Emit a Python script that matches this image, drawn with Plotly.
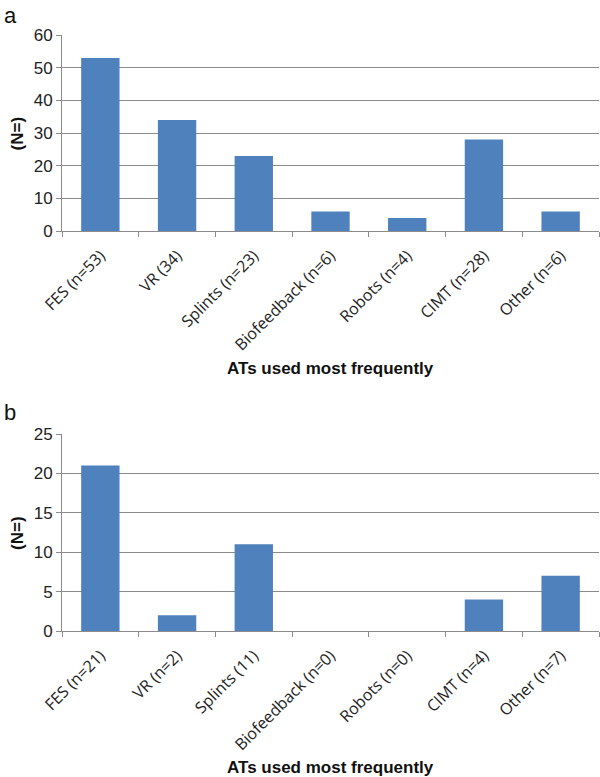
import plotly.graph_objects as go

cats_a = ["FES (n=53)", "VR (34)", "Splints (n=23)", "Biofeedback (n=6)", "Robots (n=4)", "CIMT (n=28)", "Other (n=6)"]
vals_a = [53, 34, 23, 6, 4, 28, 6]
cats_b = ["FES (n=21)", "VR (n=2)", "Splints (11)", "Biofeedback (n=0)", "Robots (n=0)", "CIMT (n=4)", "Other (n=7)"]
vals_b = [21, 2, 11, 0, 0, 4, 7]
xtitle = "ATs used most frequently"
ytitle = "(N="  + ")"

bar_color = "#4F81BD"
grid_color = "#8C8C8C"
tick_font = dict(family="Liberation Sans, Arial, sans-serif", size=17, color="#222")
cat_font = dict(family="Open Sans, sans-serif", size=16, color="#222")

fig = go.Figure()
fig.add_trace(go.Bar(x=cats_a, y=vals_a, marker=dict(color=bar_color, line=dict(width=0)),
                     xaxis="x", yaxis="y", showlegend=False))
fig.add_trace(go.Bar(x=cats_b, y=vals_b, marker=dict(color=bar_color, line=dict(width=0)),
                     xaxis="x2", yaxis="y2", showlegend=False))

xcommon = dict(showgrid=False, showline=True, linecolor=grid_color, linewidth=1,
               ticks="outside", tickson="boundaries", ticklen=5, tickcolor=grid_color,
               tickangle=-45, tickfont=cat_font, domain=[0, 1], automargin=False,
               ticklabelstandoff=8)
ycommon = dict(showgrid=True, gridcolor=grid_color, gridwidth=1, showline=True,
               linecolor=grid_color, linewidth=1, ticks="outside", ticklen=5,
               tickcolor=grid_color, tickfont=tick_font, zeroline=False, automargin=False)

fig.update_layout(
    width=600, height=777,
    margin=dict(l=62, r=1, t=35, b=146),
    plot_bgcolor="white", paper_bgcolor="white",
    bargap=0.5,
    xaxis=dict(**xcommon, anchor="y"),
    yaxis=dict(**ycommon, range=[0, 60], dtick=10, domain=[0.671, 1.0], anchor="x"),
    xaxis2=dict(**xcommon, anchor="y2"),
    yaxis2=dict(**ycommon, range=[0, 25], dtick=5, domain=[0.0, 0.3305], anchor="x2"),
)

title_font = dict(family="Liberation Sans, Arial, sans-serif", size=17, color="#111")
for t, xp, yp in [("a", -0.112, 1.033), ("b", -0.112, 0.367)]:
    fig.add_annotation(text=t, x=xp, y=yp, xref="paper", yref="paper", showarrow=False,
                       font=dict(family="Liberation Sans, Arial, sans-serif", size=22, color="#111"),
                       xanchor="left", yanchor="middle")
for yp in [(0.671 + 1.0) / 2, 0.3305 / 2]:
    fig.add_annotation(text="<b>" + ytitle + "</b>", x=-0.083, y=yp, xref="paper", yref="paper",
                       showarrow=False, textangle=-90, font=title_font,
                       xanchor="center", yanchor="middle")
for yp in [0.440, -0.229]:
    fig.add_annotation(text="<b>" + xtitle + "</b>", x=0.5, y=yp, xref="paper", yref="paper",
                       showarrow=False, font=title_font, xanchor="center", yanchor="middle")

fig.write_html("out.html", config={"displayModeBar": False},
               post_script="document.body.style.margin='0px';")
